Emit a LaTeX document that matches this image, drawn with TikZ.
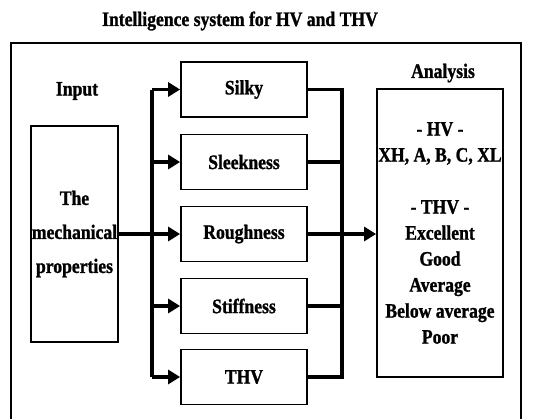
\documentclass[tikz,border=0pt]{standalone}
\usepackage{fontspec}
\setmainfont{Liberation Serif}[FakeStretch=0.86]
\setmainfont{Liberation Serif}[FakeStretch=0.86, BoldFeatures={FakeBold=1.2}]
\usetikzlibrary{arrows.meta}
\begin{document}
\begin{tikzpicture}[x=1pt,y=-1pt,
  every node/.style={font=\bfseries\fontsize{20.5}{24}\selectfont, inner sep=0pt},
  box/.style={draw, line width=1.8pt, minimum width=126pt, minimum height=55pt},
  conn/.style={line width=3.5pt},
  arr/.style={conn, -{Triangle[length=12pt,width=14pt]}},
  frame/.style={line width=1.6pt}]
\useasboundingbox (0,0) rectangle (538,418);
\draw[frame] (11,420) -- (11,43) -- (521,43) -- (521,420);
\node (title) at (240,21) {Intelligence system for HV and THV};
\node (inlabel) at (77,91) {Input};
\node[draw, line width=1.8pt, minimum width=87pt, minimum height=216pt, align=center,
      font=\bfseries\fontsize{20.5}{34}\selectfont] (inbox) at (74.5,234) {The\\mechanical\\properties};
\node[box] (silky) at (244,89.5) {Silky};
\node[box] (sleek) at (244,162) {Sleekness};
\node[box] (rough) at (244,234) {Roughness};
\node[box] (stiff) at (244,306) {Stiffness};
\node[box] (thv) at (244,377) {THV};
\node (anlabel) at (443,73) {Analysis};
\node[draw, line width=1.8pt, minimum width=126pt, minimum height=288pt, align=center,
      font=\bfseries\fontsize{20.5}{26}\selectfont] (anbox) at (440,233)
  {- HV -\\XH, A, B, C, XL\\[26pt]- THV -\\Excellent\\Good\\Average\\Below average\\Poor};
\coordinate (lbus) at (152,0);
\coordinate (rbus) at (342,0);
% left bus
\draw[conn] (lbus |- silky.west) -- (lbus |- thv.west);
\draw[arr] (lbus |- silky.west) -- (silky.west);
\draw[arr] (lbus |- sleek.west) -- (sleek.west);
\draw[arr] (inbox.east) -- (rough.west);
\draw[arr] (lbus |- stiff.west) -- (stiff.west);
\draw[arr] (lbus |- thv.west) -- (thv.west);
% right bus
\draw[conn] (silky.east) -- (rbus |- silky.east) -- (rbus |- thv.east) -- (thv.east);
\draw[conn] (sleek.east) -- (rbus |- sleek.east);
\draw[conn] (stiff.east) -- (rbus |- stiff.east);
\draw[arr] (rough.east) -- (anbox.west |- rough.east);
\end{tikzpicture}
\end{document}
